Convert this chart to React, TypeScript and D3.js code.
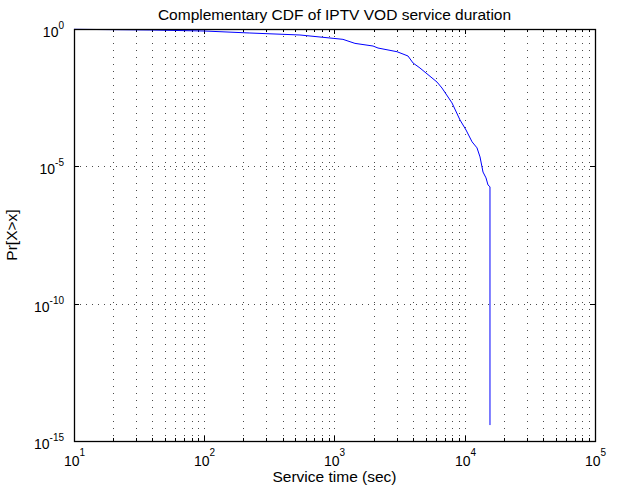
import React from "react";
import * as d3 from "d3";

const serviceTime = [10, 38.3, 100, 224, 543, 975, 1161, 1435, 1976, 2158, 3020, 3666, 4008, 4530, 6124, 6687, 7980, 9190, 10230, 11380, 12420, 13100, 13810, 14560, 15080, 15620, 15620];
const ccdf = [0.975, 0.92, 0.845, 0.715, 0.605, 0.458, 0.42, 0.30, 0.24, 0.203, 0.149, 0.104, 0.058, 0.038, 0.0117, 0.0071, 0.00204, 0.00049, 0.00021, 7.8e-5, 4.7e-5, 2.2e-5, 6.2e-6, 3.8e-6, 2.1e-6, 1.8e-6, 3.8e-15];

const xExponents = [1, 2, 3, 4, 5];
const yExponents = [0, -5, -10, -15];
const titleText = "Complementary CDF of IPTV VOD service duration";
const xLabelText = "Service time (sec)";
const yLabelText = "Pr[X>x]";

const W = 627, H = 490;
const L = 74, R = 595, T = 29, B = 441;
const FONT = "'Liberation Sans', Arial, Helvetica, sans-serif";

export default function App() {
  const x = d3.scaleLog().domain([1e1, 1e5]).range([L, R]);
  const y = d3.scaleLog().domain([1e-15, 1e0]).range([B, T]);

  const minorX: number[] = [];
  for (let e = 1; e < 5; e++) for (let m = 2; m <= 9; m++) minorX.push(m * Math.pow(10, e));
  const majorInnerX = xExponents.slice(1, -1).map((e) => Math.pow(10, e));
  const innerY = yExponents.slice(1, -1).map((e) => Math.pow(10, e));

  const line = d3.line<number>()
    .x((_, i) => x(serviceTime[i]))
    .y((d) => y(d));

  const px = (v: number) => Math.round(v) + 0.5;

  return (
    <svg width={W} height={H} style={{ position: "absolute", left: 0, top: 0, background: "#fff" }} fontFamily={FONT}>
      <rect x={0} y={0} width={W} height={H} fill="#fff" />
      {[...minorX, ...majorInnerX].map((v, i) => (
        <line key={"gx" + i} x1={px(x(v))} x2={px(x(v))} y1={T} y2={B} stroke="#000" strokeWidth={1} strokeDasharray="1,6" opacity={0.7} />
      ))}
      {innerY.map((v, i) => (
        <line key={"gy" + i} x1={L} x2={R} y1={px(y(v))} y2={px(y(v))} stroke="#000" strokeWidth={1} strokeDasharray="1,5" opacity={0.7} />
      ))}
      {minorX.map((v, i) => (
        <g key={"mt" + i}>
          <line x1={px(x(v))} x2={px(x(v))} y1={B} y2={B - 3} stroke="#000" />
          <line x1={px(x(v))} x2={px(x(v))} y1={T} y2={T + 3} stroke="#000" />
        </g>
      ))}
      {xExponents.map((e, i) => {
        const xv = px(x(Math.pow(10, e)));
        return (
          <g key={"xt" + i}>
            <line x1={xv} x2={xv} y1={B} y2={B - 5} stroke="#000" />
            <line x1={xv} x2={xv} y1={T} y2={T + 5} stroke="#000" />
            <text x={xv} y={466} textAnchor="middle" fontSize={14} fill="#000">
              10<tspan dy={-10} fontSize={10}>{e}</tspan>
            </text>
          </g>
        );
      })}
      {yExponents.map((e, i) => {
        const yv = px(y(Math.pow(10, e)));
        return (
          <g key={"yt" + i}>
            <line x1={L} x2={L + 5} y1={yv} y2={yv} stroke="#000" />
            <line x1={R} x2={R - 5} y1={yv} y2={yv} stroke="#000" />
            <text x={64} y={yv + 7} textAnchor="end" fontSize={14} fill="#000">
              10<tspan dy={-8} fontSize={10}>{e}</tspan>
            </text>
          </g>
        );
      })}
      <path d={line(ccdf) || ""} fill="none" stroke="#0000ff" strokeWidth={1} />
      <rect x={px(L)} y={px(T)} width={R - L} height={B - T} fill="none" stroke="#000" strokeWidth={1.3} />
      <text x={(L + R) / 2} y={20} textAnchor="middle" fontSize={15.5} fill="#000">{titleText}</text>
      <text x={(L + R) / 2} y={482} textAnchor="middle" fontSize={15.5} fill="#000">{xLabelText}</text>
      <text transform={`translate(17,${(T + B) / 2}) rotate(-90)`} textAnchor="middle" fontSize={15.5} fill="#000">{yLabelText}</text>
    </svg>
  );
}
